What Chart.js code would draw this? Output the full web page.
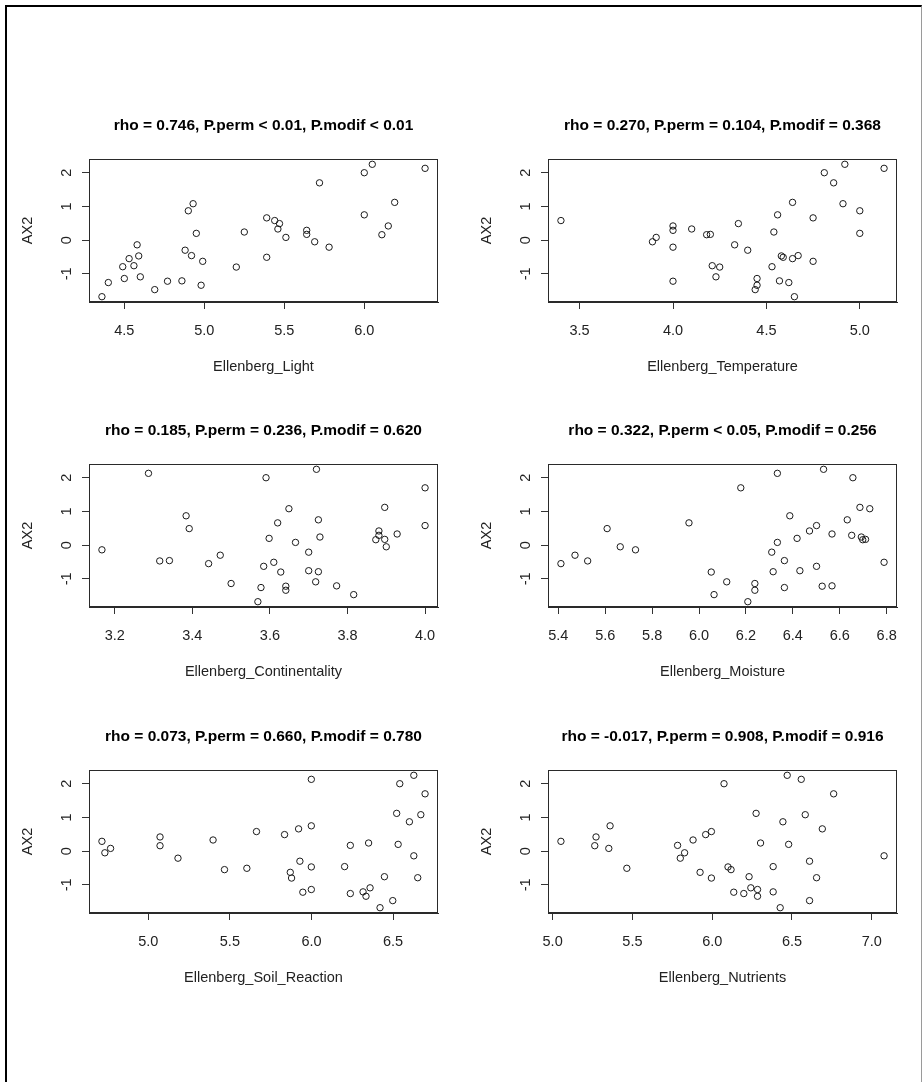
<!DOCTYPE html>
<html>
<head>
<meta charset="utf-8">
<script src="https://cdn.jsdelivr.net/npm/chart.js@4/dist/chart.umd.min.js"></script>
<style>
html,body{margin:0;padding:0;background:#fff;}
body{width:923px;height:1082px;position:relative;overflow:hidden;}
#frame{position:absolute;left:5px;top:5px;width:917px;height:1100px;border-left:2px solid #000;border-top:2px solid #000;border-right:1px solid #9a9a9a;box-sizing:border-box;}
.cell{position:absolute;width:459px;height:305px;}
canvas{display:block;}
</style>
</head>
<body>
<div id="frame"></div>
<div class="cell" style="left:0px;top:100px"><canvas id="c0" width="459" height="305"></canvas></div>
<div class="cell" style="left:459px;top:100px"><canvas id="c1" width="459" height="305"></canvas></div>
<div class="cell" style="left:0px;top:405px"><canvas id="c2" width="459" height="305"></canvas></div>
<div class="cell" style="left:459px;top:405px"><canvas id="c3" width="459" height="305"></canvas></div>
<div class="cell" style="left:0px;top:711px"><canvas id="c4" width="459" height="305"></canvas></div>
<div class="cell" style="left:459px;top:711px"><canvas id="c5" width="459" height="305"></canvas></div>
<script>
// ---- data (one row per site; AX2 shared by all panels) ----
const ax2 = [-1.68, -1.47, -1.34, -1.26, -1.22, -1.21, -1.14, -1.09, -0.80, -0.79,
             -0.76, -0.63, -0.55, -0.51, -0.47, -0.46, -0.30, -0.21, -0.14, -0.05,
              0.08, 0.16, 0.17, 0.20, 0.24, 0.29, 0.33, 0.42, 0.49, 0.58,
              0.66, 0.75, 0.87, 1.08, 1.12, 1.70, 2.00, 2.13, 2.25];

const light = [4.36, 4.69, 4.98, 4.40, 4.77, 4.86, 4.50, 4.60, 5.20, 4.49,
               4.56, 4.99, 4.53, 5.39, 4.59, 4.92, 4.88, 5.78, 4.58, 5.69,
               5.51, 6.11, 5.64, 4.95, 5.25, 5.64, 5.46, 6.15, 5.47, 5.44,
               5.39, 6.00, 4.90, 4.93, 6.19, 5.72, 6.00, 6.38, 6.05];

const temperature = [4.65, 4.44, 4.45, 4.62, 4.00, 4.57, 4.45, 4.23, 4.25, 4.53,
                     4.21, 4.75, 4.64, 4.59, 4.58, 4.67, 4.40, 4.00, 4.33, 3.89,
                     3.91, 4.18, 4.20, 5.00, 4.54, 4.00, 4.10, 4.00, 4.35, 3.40,
                     4.75, 4.56, 5.00, 4.91, 4.64, 4.86, 4.81, 5.13, 4.92];

const continentality = [3.569, 3.816, 3.641, 3.577, 3.641, 3.772, 3.500, 3.718, 3.628, 3.725,
                        3.700, 3.584, 3.442, 3.610, 3.316, 3.341, 3.472, 3.700, 3.167, 3.900,
                        3.666, 3.873, 3.896, 3.598, 3.729, 3.881, 3.928, 3.881, 3.392, 4.000,
                        3.620, 3.725, 3.384, 3.649, 3.896, 4.000, 3.590, 3.287, 3.720];

const moisture = [6.208, 6.064, 6.238, 6.364, 6.525, 6.567, 6.238, 6.118, 6.052, 6.316,
                  6.430, 6.501, 5.411, 6.789, 5.525, 6.364, 5.471, 6.310, 5.729, 5.664,
                  6.334, 6.698, 6.710, 6.418, 6.692, 6.651, 6.567, 6.471, 5.608, 6.501,
                  5.957, 6.632, 6.387, 6.728, 6.686, 6.178, 6.656, 6.334, 6.531];

const soilReaction = [6.420, 6.498, 6.334, 6.238, 5.947, 6.316, 5.999, 6.359, 5.878, 6.651,
                      6.447, 5.870, 5.467, 5.604, 5.999, 6.203, 5.929, 5.182, 6.627, 4.734,
                      4.769, 5.072, 6.238, 6.531, 6.350, 4.716, 5.397, 5.072, 5.835, 5.663,
                      5.921, 5.999, 6.600, 6.670, 6.522, 6.696, 6.541, 5.999, 6.627];

const nutrients = [6.426, 6.610, 6.284, 6.198, 6.135, 6.382, 6.284, 6.242, 5.995, 6.654,
                   6.231, 5.924, 6.118, 5.465, 6.099, 6.382, 6.610, 5.800, 7.077, 5.827,
                   5.352, 5.264, 5.783, 6.479, 6.303, 5.052, 5.880, 5.272, 5.959, 5.995,
                   6.690, 5.360, 6.443, 6.583, 6.275, 6.761, 6.074, 6.558, 6.470];

const panelTitles = [
  "rho = 0.746, P.perm < 0.01, P.modif < 0.01",
  "rho = 0.270, P.perm = 0.104, P.modif = 0.368",
  "rho = 0.185, P.perm = 0.236, P.modif = 0.620",
  "rho = 0.322, P.perm < 0.05, P.modif = 0.256",
  "rho = 0.073, P.perm = 0.660, P.modif = 0.780",
  "rho = -0.017, P.perm = 0.908, P.modif = 0.916"
];
const xLabels = ["Ellenberg_Light", "Ellenberg_Temperature", "Ellenberg_Continentality",
                 "Ellenberg_Moisture", "Ellenberg_Soil_Reaction", "Ellenberg_Nutrients"];
const lightTicks = [4.5, 5.0, 5.5, 6.0];
const temperatureTicks = [3.5, 4.0, 4.5, 5.0];
const continentalityTicks = [3.2, 3.4, 3.6, 3.8, 4.0];
const moistureTicks = [5.4, 5.6, 5.8, 6.0, 6.2, 6.4, 6.6, 6.8];
const soilTicks = [5.0, 5.5, 6.0, 6.5];
const nutrientTicks = [5.0, 5.5, 6.0, 6.5, 7.0];
const yTicks = [-1, 0, 1, 2];
const yLabel = "AX2";

// ---- drawing ----
const FONT = "'Liberation Sans', Arial, sans-serif";
const AXIS_FONT = {family: FONT, size: 14.5};
const INK = '#222';

const boxPlugin = {
  id: 'rbox',
  afterDraw(chart) {
    const {ctx, chartArea: a} = chart;
    ctx.save();
    ctx.strokeStyle = '#2a2a2a';
    ctx.lineWidth = 1;
    ctx.strokeRect(Math.round(a.left) + 0.5, Math.round(a.top) + 0.5,
                   Math.round(a.right - a.left) - 1, Math.round(a.bottom - a.top) - 1);
    ctx.restore();
  }
};

function rRange(vals) {
  const lo = Math.min(...vals), hi = Math.max(...vals), r = hi - lo;
  return [lo - 0.04 * r, hi + 0.04 * r];
}

function makePanel(id, xs, xTicks, title, xLabel) {
  const [xmin, xmax] = rRange(xs);
  const [ymin, ymax] = rRange(ax2);
  new Chart(document.getElementById(id), {
    type: 'scatter',
    data: {
      datasets: [{
        data: xs.map((x, i) => ({x: x, y: ax2[i]})),
        pointStyle: 'circle',
        pointRadius: 3.2,
        pointHoverRadius: 3.2,
        pointBorderWidth: 1,
        borderColor: '#1a1a1a',
        backgroundColor: 'rgba(0,0,0,0)',
        pointBorderColor: '#1a1a1a',
        pointBackgroundColor: 'rgba(0,0,0,0)'
      }]
    },
    options: {
      responsive: false,
      animation: false,
      devicePixelRatio: 1,
      events: [],
      layout: {padding: {left: 0, right: 21, top: 0, bottom: 0}, autoPadding: false},
      plugins: {
        legend: {display: false},
        tooltip: {enabled: false},
        title: {
          display: true, text: title, fullSize: false, color: '#000',
          font: {family: FONT, size: 15.5, weight: 'bold'},
          padding: {top: 16, bottom: 24.4}
        }
      },
      scales: {
        x: {
          type: 'linear', position: 'bottom', min: xmin, max: xmax,
          afterBuildTicks: s => { s.ticks = xTicks.map(v => ({value: v})); },
          afterFit: s => { s.height = 103; },
          ticks: {callback: v => Number(v).toFixed(1), font: AXIS_FONT, color: INK,
                  padding: 13.3, minRotation: 0, maxRotation: 0, autoSkip: false},
          grid: {drawOnChartArea: false, drawTicks: true, tickLength: 7, color: '#333', lineWidth: 1},
          border: {display: true, color: '#2a2a2a', width: 1},
          title: {display: true, text: xLabel, font: AXIS_FONT, color: INK, padding: {top: 0, bottom: 29.3}}
        },
        y: {
          type: 'linear', position: 'left', min: ymin, max: ymax,
          afterBuildTicks: s => { s.ticks = yTicks.map(v => ({value: v})); },
          afterFit: s => { s.width = 89; },
          ticks: {callback: v => String(v), font: AXIS_FONT, color: INK, padding: 8.85,
                  minRotation: 90, maxRotation: 90, crossAlign: 'center', autoSkip: false},
          grid: {drawOnChartArea: false, drawTicks: true, tickLength: 7, color: '#333', lineWidth: 1},
          border: {display: true, color: '#2a2a2a', width: 1},
          title: {display: true, text: yLabel, font: AXIS_FONT, color: INK, padding: {top: 19.6, bottom: 0}}
        }
      }
    },
    plugins: [boxPlugin]
  });
}

makePanel('c0', light, lightTicks, panelTitles[0], xLabels[0]);
makePanel('c1', temperature, temperatureTicks, panelTitles[1], xLabels[1]);
makePanel('c2', continentality, continentalityTicks, panelTitles[2], xLabels[2]);
makePanel('c3', moisture, moistureTicks, panelTitles[3], xLabels[3]);
makePanel('c4', soilReaction, soilTicks, panelTitles[4], xLabels[4]);
makePanel('c5', nutrients, nutrientTicks, panelTitles[5], xLabels[5]);
</script>
</body>
</html>
